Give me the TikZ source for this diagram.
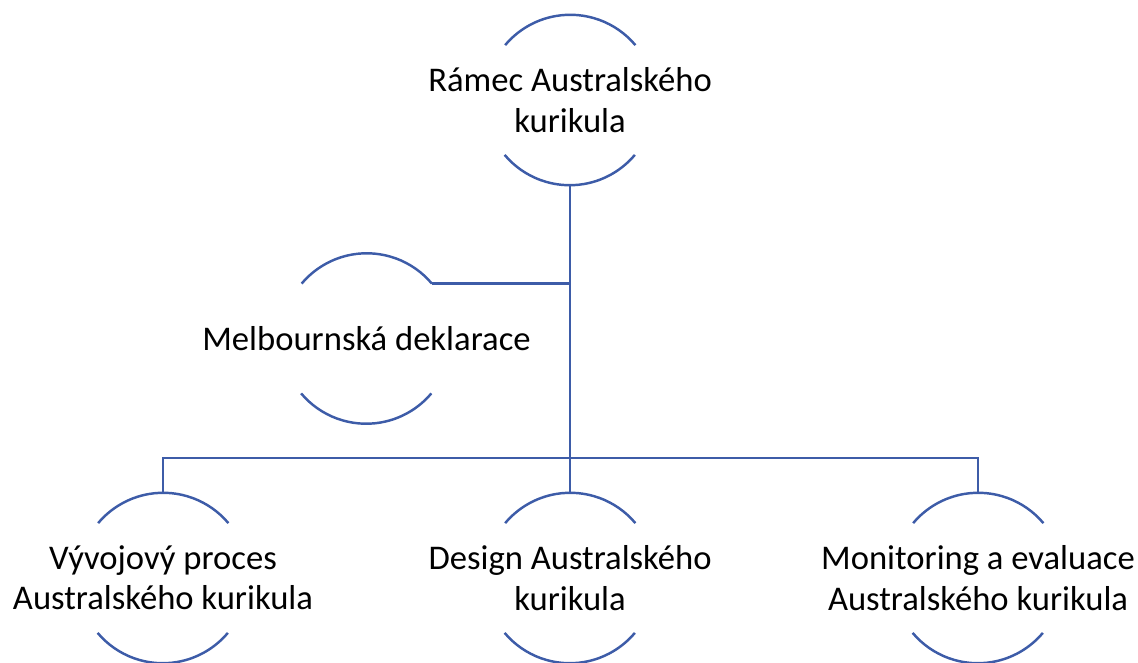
\documentclass[tikz,border=0pt]{standalone}
\usepackage{fontspec}
\setmainfont{Carlito}
\usepackage{xcolor}
\definecolor{ringblue}{RGB}{61,92,168}
\usetikzlibrary{positioning,calc}

\tikzset{
  ring/.style={circle, draw=none, minimum size=3.4cm, inner sep=0pt},
  ringtext/.style={font=\fontsize{19.7}{22.9}\selectfont, align=center, text=black},
  arcline/.style={draw=ringblue, line width=1.4pt},
  link/.style={draw=ringblue, line width=1.4pt}
}
% upper and lower arcs of a ring node
\newcommand{\ringarcs}[1]{%
  \draw[arcline] (#1.40) arc[start angle=40, end angle=140, radius=1.7cm];
  \draw[arcline] (#1.220) arc[start angle=220, end angle=320, radius=1.7cm];
}

\begin{document}
\begin{tikzpicture}
  \useasboundingbox (0,0) rectangle (22.76,13.24);

  \node[ring] (rtop) at (11.40,11.24) {};
  \node[ring] (rmel) at (7.33,6.47) {};
  \node[ring] (rleft) at (3.26,1.68) {};
  \node[ring] (rmid) at (11.40,1.68) {};
  \node[ring] (rright) at (19.56,1.68) {};

  \node[ringtext] (ttop) at (rtop) {Rámec Australského\\kurikula};
  \node[ringtext] (tmel) at (rmel) {Melbournská deklarace};
  \node[ringtext] (tleft) at (rleft) {Vývojový proces\\Australského kurikula};
  \node[ringtext] (tmid) at (rmid) {Design Australského\\kurikula};
  \node[ringtext] (tright) at (rright) {Monitoring a evaluace\\Australského kurikula};

  \ringarcs{rtop}
  \ringarcs{rmel}
  \ringarcs{rleft}
  \ringarcs{rmid}
  \ringarcs{rright}

  % connectors
  \coordinate (bus) at (11.40,4.08);
  \draw[link] (rtop.south) -- (rmid.north);
  \draw[link] (rmel.40) -- (rmel.40 -| rtop.south);
  \draw[link] (rleft.north) |- (bus) -| (rright.north);
\end{tikzpicture}
\end{document}
